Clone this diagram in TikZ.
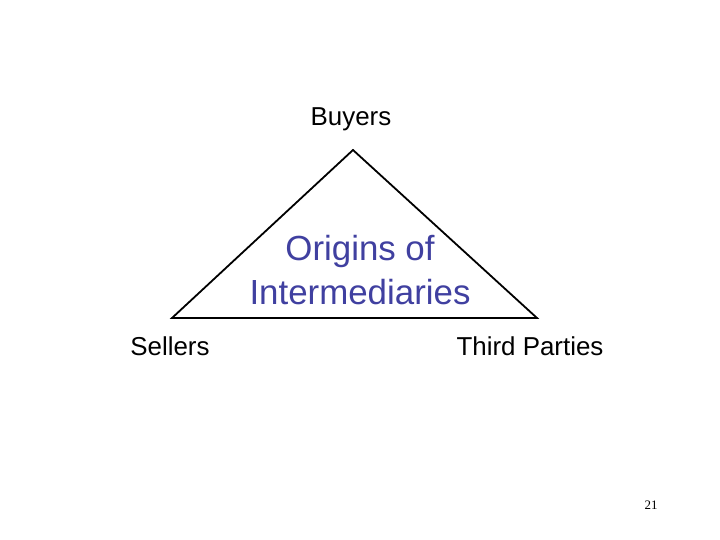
\documentclass[tikz,border=0pt]{standalone}
\usepackage{fontspec}
\setmainfont{Liberation Sans}
\newfontfamily\numfont{Liberation Serif}
\definecolor{tblue}{RGB}{64,64,160}
\begin{document}
\begin{tikzpicture}[x=1bp,y=-1bp,
  lbl/.style={font=\fontsize{26}{30}\selectfont,inner sep=0pt},
  edge/.style={draw=black,line width=1.8bp}]
\useasboundingbox (0,0) rectangle (720,540);
\coordinate (top) at (353,150);
\coordinate (left) at (172,318);
\coordinate (right) at (537,318);
\draw[edge] (top) -- (left) -- (right) -- cycle;
\node[lbl] (buyers) at (351,119) {Buyers};
\node[lbl] (sellers) at (170,346) {Sellers};
\node[lbl] (third) at (530,346) {Third Parties};
\node[font=\fontsize{35}{44}\selectfont,text=tblue,align=center,inner sep=0pt] (origins) at (360,270) {Origins of\\Intermediaries};
\node[font=\numfont\fontsize{13}{15}\selectfont,inner sep=0pt] (num) at (651,505) {21};
\end{tikzpicture}
\end{document}
